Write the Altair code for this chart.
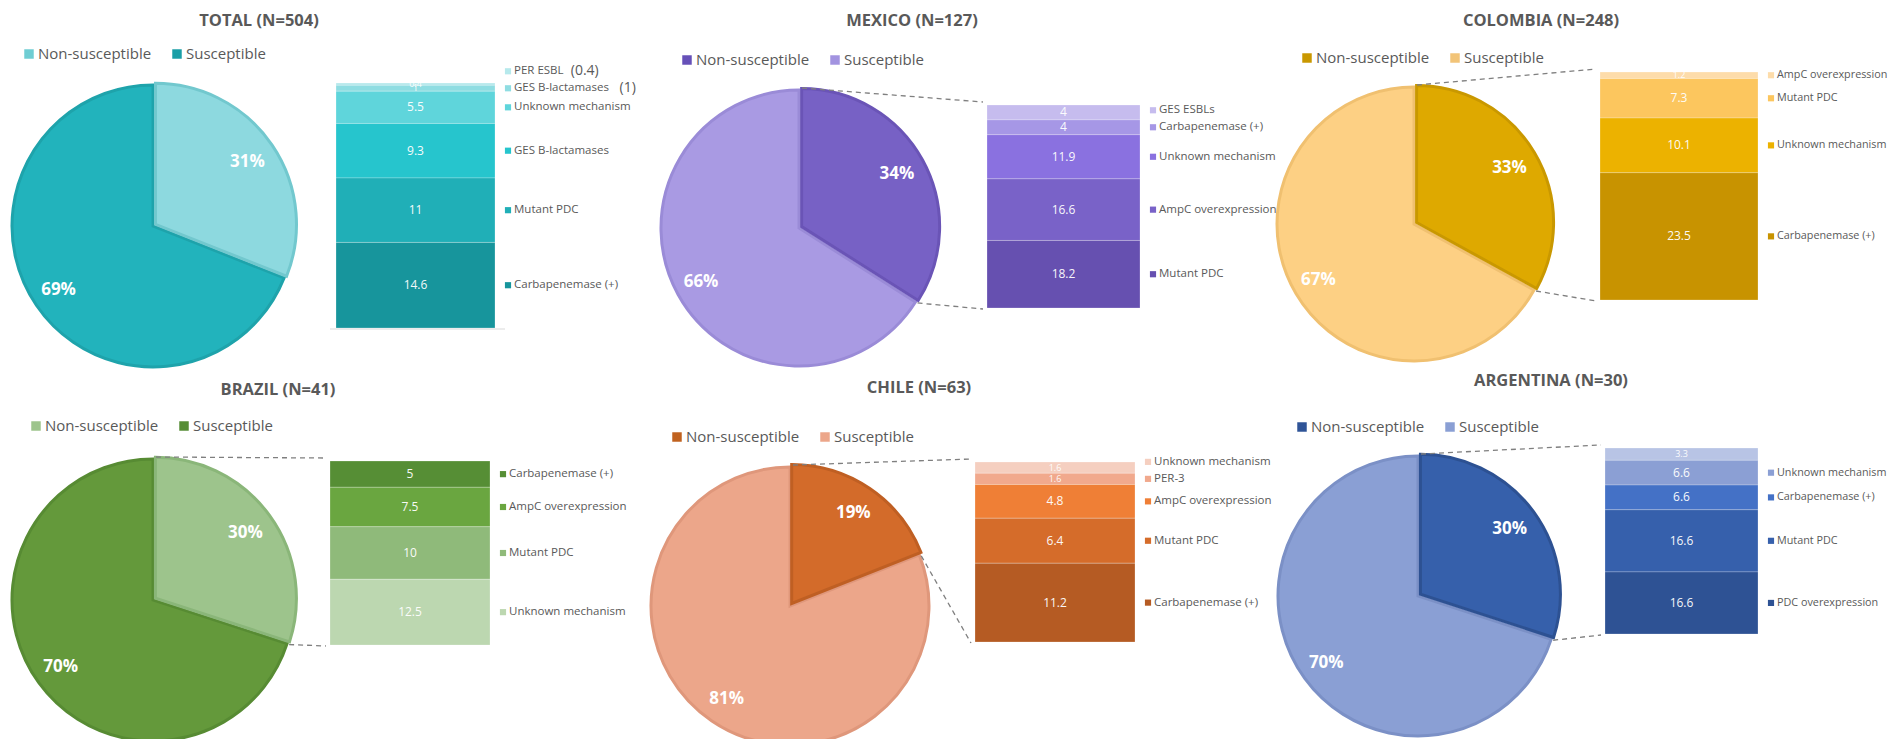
import math
import pandas as pd
import altair as alt

FONT = "Open Sans"
TXT = "#595959"
OFF = 8  # page margin: page px -> view px

# ---------------- data ----------------
PANELS = ["TOTAL", "MEXICO", "COLOMBIA", "BRAZIL", "CHILE", "ARGENTINA"]
N_ISOLATES = [504, 127, 248, 41, 63, 30]
NON_SUSCEPTIBLE_PCT = [31, 34, 33, 30, 19, 30]
SUSCEPTIBLE_PCT = [69, 66, 67, 70, 81, 70]

# resistance mechanisms, listed top-to-bottom as stacked in each bar
TOTAL_MECH = ["PER ESBL", "GES B-lactamases", "Unknown mechanism",
              "GES B-lactamases", "Mutant PDC", "Carbapenemase (+)"]
TOTAL_NOTE = ["(0.4)", "(1)", "", "", "", ""]
TOTAL_VALS = [0.4, 1, 5.5, 9.3, 11, 14.6]
MEXICO_MECH = ["GES ESBLs", "Carbapenemase (+)", "Unknown mechanism",
               "AmpC overexpression", "Mutant PDC"]
MEXICO_VALS = [4, 4, 11.9, 16.6, 18.2]
COLOMBIA_MECH = ["AmpC overexpression", "Mutant PDC", "Unknown mechanism", "Carbapenemase (+)"]
COLOMBIA_VALS = [1.2, 7.3, 10.1, 23.5]
BRAZIL_MECH = ["Carbapenemase (+)", "AmpC overexpression", "Mutant PDC", "Unknown mechanism"]
BRAZIL_VALS = [5, 7.5, 10, 12.5]
CHILE_MECH = ["Unknown mechanism", "PER-3", "AmpC overexpression", "Mutant PDC", "Carbapenemase (+)"]
CHILE_VALS = [1.6, 1.6, 4.8, 6.4, 11.2]
ARGENTINA_MECH = ["", "Unknown mechanism", "Carbapenemase (+)", "Mutant PDC", "PDC overexpression"]
ARGENTINA_VALS = [3.3, 6.6, 6.6, 16.6, 16.6]

MECH = [TOTAL_MECH, MEXICO_MECH, COLOMBIA_MECH, BRAZIL_MECH, CHILE_MECH, ARGENTINA_MECH]
VALS = [TOTAL_VALS, MEXICO_VALS, COLOMBIA_VALS, BRAZIL_VALS, CHILE_VALS, ARGENTINA_VALS]

# ---------------- styles ----------------
PIE_FILL = [("#8dd9df", "#22b3bc"), ("#7761c5", "#a99ae3"), ("#dea900", "#fdd084"),
            ("#9dc48c", "#64993b"), ("#d36b2a", "#eca68a"), ("#3660ab", "#8a9fd4")]
PIE_STROKE = [("#72c8ce", "#1ea3ab"), ("#6a54b6", "#9a8bd7"), ("#c99800", "#f0c070"),
              ("#8ab679", "#578b33"), ("#bf5f23", "#df977b"), ("#2d5192", "#7b90c6")]
LEGEND_SQ = [("#6fcdd3", "#1a9ea6"), ("#6650b8", "#a293e0"), ("#c99800", "#f2c478"),
             ("#9dc48c", "#568d35"), ("#c0621f", "#eca68a"), ("#2f5497", "#8a9fd4")]
BAR_COLORS = [
    ["#b6e9ec", "#8fdde2", "#5fd5db", "#26c5cd", "#20afb7", "#17959c"],
    ["#c6bcee", "#a697e6", "#8a71e0", "#7962c8", "#6650b0"],
    ["#fddcaa", "#fcc65e", "#ecb200", "#c89300"],
    ["#568e35", "#6aa640", "#8fba7a", "#bcd7b0"],
    ["#f5cfc0", "#f1a98d", "#ef7f36", "#d56c2a", "#b55b23"],
    ["#b8c4e5", "#8b9fd4", "#4471c6", "#3660ac", "#2e5294"],
]
LEGEND_FONT = [11.5, 11.5, 10.8, 11.5, 11.5, 10.8]

# ---------------- layout (page pixels) ----------------
LAYOUT = [
    dict(title=(259, 21), legend=(29, 54), pie=(153, 226, 141), bar=(336, 495, 83, 328), conn=False),
    dict(title=(912, 21), legend=(687, 60), pie=(799, 228, 138), bar=(987, 1140, 105, 308), conn=True),
    dict(title=(1541, 21), legend=(1307, 58), pie=(1414, 224, 137), bar=(1600, 1758, 72, 300), conn=True),
    dict(title=(278, 390), legend=(36, 426), pie=(153, 600, 141), bar=(330, 490, 461, 645), conn=True),
    dict(title=(919, 388), legend=(677, 437), pie=(790, 606, 139), bar=(975, 1135, 462, 642), conn=True),
    dict(title=(1551, 381), legend=(1302, 427), pie=(1418, 596, 140), bar=(1605, 1758, 448, 634), conn=True),
]


def px(v):
    return v - OFF


theta_scale = alt.Scale(domain=[0, 100], range=[0, 2 * math.pi])
layers = []
text_rows = []
sq_rows = []
conn_rows = []

for i, name in enumerate(PANELS):
    L = LAYOUT[i]
    cx, cy, r = L["pie"]
    ns, s = NON_SUSCEPTIBLE_PCT[i], SUSCEPTIBLE_PCT[i]

    # ---- pie ----
    d_s = pd.DataFrame({"t0": [ns], "t1": [ns + s], "fill": [PIE_FILL[i][1]], "stroke": [PIE_STROKE[i][1]]})
    d_ns = pd.DataFrame({"t0": [0], "t1": [ns], "fill": [PIE_FILL[i][0]], "stroke": [PIE_STROKE[i][0]]})
    ang = ns / 100 * math.pi
    for d, dx, dy in [(d_s, 0, 0), (d_ns, 3 * math.sin(ang), -3 * math.cos(ang))]:
        layers.append(
            alt.Chart(d).mark_arc(outerRadius=r, strokeWidth=3, xOffset=dx, yOffset=dy).encode(
                theta=alt.Theta("t0:Q", scale=theta_scale, stack=None),
                theta2="t1:Q",
                fill=alt.Fill("fill:N", scale=None),
                stroke=alt.Stroke("stroke:N", scale=None),
                x=alt.value(px(cx)), y=alt.value(px(cy)),
            )
        )
    d_pl = pd.DataFrame({"txt": [f"{ns}%", f"{s}%"], "mid": [ns / 2, ns + s / 2]})
    layers.append(
        alt.Chart(d_pl).mark_text(radius=0.81 * r, font=FONT, fontSize=17, fontWeight="bold",
                                  color="white").encode(
            theta=alt.Theta("mid:Q", scale=theta_scale, stack=None),
            text="txt:N",
            x=alt.value(px(cx)), y=alt.value(px(cy)),
        )
    )

    # ---- stacked bar ----
    vals, labs, cols = VALS[i], MECH[i], BAR_COLORS[i]
    notes = TOTAL_NOTE if name == "TOTAL" else [""] * len(vals)
    x0, x1, top, bottom = L["bar"]
    total = sum(vals)
    ppu = (bottom - top) / total
    n = len(vals)
    starts, ends = [0.0] * n, [0.0] * n
    cum = 0.0
    for k in range(n - 1, -1, -1):
        starts[k] = cum
        cum += vals[k]
        ends[k] = cum
    mids = [(a + b) / 2 for a, b in zip(starts, ends)]
    pos = [None] * n
    prev = -1e9
    gap = 17.0 / ppu
    for k in range(n - 1, -1, -1):
        if not labs[k]:
            continue
        p = max(mids[k], prev + gap)
        pos[k] = p
        prev = p
    d_bar = pd.DataFrame({
        "label": labs, "note": notes, "value": vals, "start": starts, "end": ends, "mid": mids,
        "fill": cols, "txt": [f"{v:g}" for v in vals],
        "fs": [12 if v * ppu >= 14 else 9 for v in vals],
        "pos": pos,
        "note_dx": [len(t) * 6.1 + 8 for t in labs],
    })
    yscale = alt.Scale(domain=[0, total], range=[px(bottom), px(top)], nice=False, zero=False)
    layers.append(
        alt.Chart(d_bar).mark_bar(stroke="white", strokeWidth=0.4, strokeOpacity=0.6).encode(
            y=alt.Y("start:Q", scale=yscale, axis=None),
            y2="end:Q",
            x=alt.value(px(x0)), x2=alt.value(px(x1)),
            fill=alt.Fill("fill:N", scale=None),
        )
    )
    layers.append(
        alt.Chart(d_bar).mark_text(font=FONT, color="white", opacity=0.95, baseline="middle").encode(
            y=alt.Y("mid:Q", scale=yscale, axis=None),
            x=alt.value(px((x0 + x1) / 2)),
            text="txt:N",
            size=alt.Size("fs:Q", scale=None),
        )
    )
    d_leg = d_bar[d_bar["label"] != ""]
    layers.append(
        alt.Chart(d_leg).mark_square(size=38, opacity=1).encode(
            y=alt.Y("pos:Q", scale=yscale, axis=None),
            x=alt.value(px(x1 + 13)),
            color=alt.Color("fill:N", scale=None),
        )
    )
    layers.append(
        alt.Chart(d_leg).mark_text(font=FONT, fontSize=LEGEND_FONT[i], color=TXT, align="left",
                                   baseline="middle").encode(
            y=alt.Y("pos:Q", scale=yscale, axis=None),
            x=alt.value(px(x1 + 19)),
            text="label:N",
        )
    )
    d_note = d_bar[d_bar["note"] != ""]
    for _, row in d_note.iterrows():
        layers.append(
            alt.Chart(pd.DataFrame([row])).mark_text(
                font=FONT, fontSize=14, color=TXT, align="left", baseline="middle",
                dx=row["note_dx"]).encode(
                y=alt.Y("pos:Q", scale=yscale, axis=None),
                x=alt.value(px(x1 + 19)),
                text="note:N",
            )
        )

    # ---- title + top legend ----
    tx, ty = L["title"]
    text_rows.append(dict(x=px(tx), y=px(ty), t=f"{name} (N={N_ISOLATES[i]})", kind="title", al="center"))
    lx, ly = L["legend"]
    sq_rows.append(dict(x=px(lx), y=px(ly), c=LEGEND_SQ[i][0]))
    sq_rows.append(dict(x=px(lx + 148), y=px(ly), c=LEGEND_SQ[i][1]))
    text_rows.append(dict(x=px(lx + 9), y=px(ly), t="Non-susceptible", kind="legend", al="left"))
    text_rows.append(dict(x=px(lx + 157), y=px(ly), t="Susceptible", kind="legend", al="left"))

    # ---- dashed connectors ----
    if L["conn"]:
        a = ns / 100 * 2 * math.pi
        conn_rows.append(dict(x=px(cx + 3), y=px(cy - r - 2), x2=px(x0 - 4), y2=px(top - 3)))
        conn_rows.append(dict(x=px(cx + r * math.sin(a) + 2), y=px(cy - r * math.cos(a) + 1),
                              x2=px(x0 - 4), y2=px(bottom + 1)))

# baseline under the TOTAL bar
tb = LAYOUT[0]["bar"]
base_df = pd.DataFrame([dict(x=px(tb[0] - 6), y=px(tb[3] + 1), x2=px(tb[1] + 10), y2=px(tb[3] + 1))])
layers.append(
    alt.Chart(base_df).mark_rule(color="#d9d9d9", strokeWidth=1.2).encode(
        x=alt.X("x:Q", scale=None, axis=None), y=alt.Y("y:Q", scale=None, axis=None),
        x2="x2:Q", y2="y2:Q",
    )
)

conn_df = pd.DataFrame(conn_rows)
layers.append(
    alt.Chart(conn_df).mark_rule(color="#7f7f7f", strokeWidth=1.3, strokeDash=[5, 4]).encode(
        x=alt.X("x:Q", scale=None, axis=None), y=alt.Y("y:Q", scale=None, axis=None),
        x2="x2:Q", y2="y2:Q",
    )
)

tdf = pd.DataFrame(text_rows)
layers.append(
    alt.Chart(tdf[tdf["kind"] == "title"]).mark_text(font=FONT, fontSize=16.5, fontWeight="bold", color=TXT,
                                                    align="center", baseline="middle").encode(
        x=alt.X("x:Q", scale=None, axis=None), y=alt.Y("y:Q", scale=None, axis=None), text="t:N",
    )
)
layers.append(
    alt.Chart(tdf[tdf["kind"] == "legend"]).mark_text(font=FONT, fontSize=15, color=TXT,
                                                     align="left", baseline="middle").encode(
        x=alt.X("x:Q", scale=None, axis=None), y=alt.Y("y:Q", scale=None, axis=None), text="t:N",
    )
)
sdf = pd.DataFrame(sq_rows)
layers.append(
    alt.Chart(sdf).mark_square(size=90, opacity=1).encode(
        x=alt.X("x:Q", scale=None, axis=None), y=alt.Y("y:Q", scale=None, axis=None),
        color=alt.Color("c:N", scale=None),
    )
)

chart = (
    alt.layer(*layers)
    .resolve_scale(x="independent", y="independent")
    .properties(width=1885, height=731, padding=0, autosize=alt.AutoSizeParams(type="none"),
                background="white")
    .configure_view(stroke=None)
)

chart.save("out.html", embed_options={"renderer": "svg", "actions": False})
